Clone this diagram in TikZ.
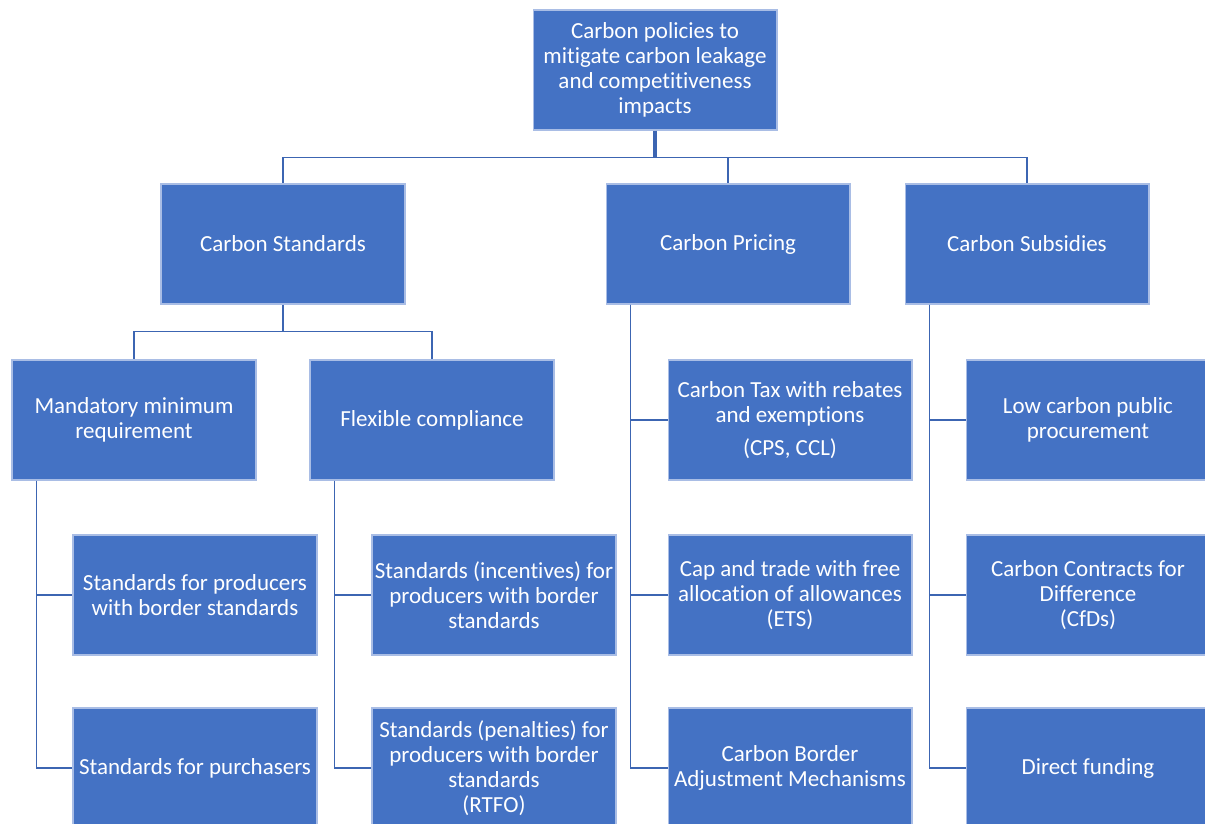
\documentclass[tikz,border=0pt]{standalone}
\usepackage{fontspec}
\setmainfont{Carlito}[Ligatures=NoCommon]
\usepackage{tikz}
\usetikzlibrary{positioning,calc}
\definecolor{cpblue}{HTML}{4472C4}
\definecolor{cpline}{HTML}{3C65B2}
\definecolor{cpedge}{HTML}{A9BDE5}
\tikzset{
  policy/.style={draw=cpedge, line width=0.6pt, fill=cpblue, text=white,
    align=center, minimum width=4.88cm, minimum height=2.4cm, inner sep=1pt,
    font=\fontsize{13.1}{14.2}\selectfont},
  link/.style={draw=cpline, line width=1.1pt},
  stem/.style={draw=cpline, line width=1.8pt}
}

\begin{document}
\begin{tikzpicture}[x=0.02cm, y=-0.02cm]
        \useasboundingbox (0,0) rectangle (1205,823);

        \node[policy] (top) at (655,70) {Carbon policies to\\mitigate carbon leakage\\and competitiveness\\impacts};

        \node[policy] (std) at (283,244) {Carbon Standards};
        \node[policy] (pri) at (728,244) {Carbon Pricing};
        \node[policy] (sub) at (1027,244) {Carbon Subsidies};

        \node[policy] (mand) at (134,420) {Mandatory minimum\\requirement};
        \node[policy] (flex) at (432,420) {Flexible compliance};
        \node[policy] (tax) at (790,420) {Carbon Tax with rebates\\and exemptions\\[5pt](CPS, CCL)};
        \node[policy] (low) at (1088,420) {Low carbon public\\procurement};

        \node[policy] (sprod) at (195,595) {Standards for producers\\with border standards};
        \node[policy] (sinc) at (494,595) {Standards (incentives) for\\producers with border\\standards};
        \node[policy] (cap) at (790,595) {Cap and trade with free\\allocation of allowances\\(ETS)};
        \node[policy] (cfd) at (1088,595) {Carbon Contracts for\\Difference\\(CfDs)};

        \node[policy] (spur) at (195,768) {Standards for purchasers};
        \node[policy] (spen) at (494,768) {Standards (penalties) for\\producers with border\\standards\\(RTFO)};
        \node[policy] (cbam) at (790,768) {Carbon Border\\Adjustment Mechanisms};
        \node[policy] (fund) at (1088,768) {Direct funding};

        \coordinate (hub) at ($(top.south)+(0,27)$);
        \coordinate (shub) at ($(std.south)+(0,27)$);

        \draw[stem] (top.south) -- (hub);
        \foreach \n in {std,pri,sub}
            \draw[link] (hub) -| (\n.north);
        \draw[link] (std.south) -- (shub);
        \foreach \n in {mand,flex}
            \draw[link] (shub) -| (\n.north);
        \foreach \p/\c in {mand/sprod,mand/spur,flex/sinc,flex/spen,pri/tax,pri/cap,pri/cbam,sub/low,sub/cfd,sub/fund}
            \draw[link] ([xshift=0.5cm]\p.south west) |- (\c.west);
    \end{tikzpicture}
\end{document}
